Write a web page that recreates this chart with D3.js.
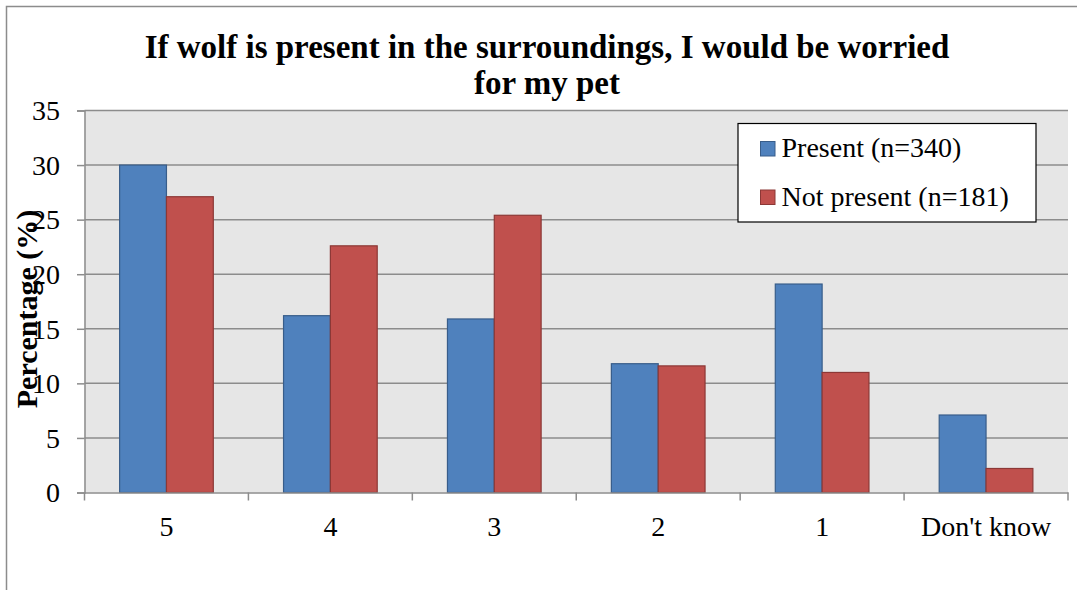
<!DOCTYPE html>
<html>
<head>
<meta charset="utf-8">
<script src="https://cdn.jsdelivr.net/npm/d3@7"></script>
<style>
  html, body { margin: 0; padding: 0; background: #ffffff; }
  svg { display: block; }
  text { font-family: "Liberation Serif", "DejaVu Serif", serif; fill: #000; }
</style>
</head>
<body>
<svg id="chart" width="1077" height="590"></svg>
<script>
const categories = ["5", "4", "3", "2", "1", "Don't know"];
const seriesNames = ["Present (n=340)", "Not present (n=181)"];
const presentValues = [30.0, 16.2, 15.9, 11.8, 19.1, 7.1];
const notPresentValues = [27.1, 22.6, 25.4, 11.6, 11.0, 2.2];
const yTicks = [0, 5, 10, 15, 20, 25, 30, 35];
const titleLines = ["If wolf is present in the surroundings, I would be worried", "for my pet"];
const yAxisTitle = "Percentage (%)";

const fills = ["#4f81bd", "#c0504d"];
const strokes = ["#385d8a", "#8c3836"];
const FONT = "Liberation Serif, DejaVu Serif, serif";

const svg = d3.select("#chart");
const W = 1077, H = 590;
const plot = { left: 84.5, right: 1068, top: 110.5, bottom: 492.5 };

// outer chart frame (cut off at right & bottom)
svg.append("rect")
  .attr("x", 6.5).attr("y", 6.5)
  .attr("width", W + 20).attr("height", H + 20)
  .attr("fill", "#fff").attr("stroke", "#8c8c8c").attr("stroke-width", 1.5);

const x0 = d3.scaleBand().domain(categories).range([plot.left, plot.right]).paddingInner(0).paddingOuter(0);
const x1 = d3.scaleBand().domain(seriesNames).range([0, x0.bandwidth()]).paddingInner(0).paddingOuter(0.75);
const y = d3.scaleLinear().domain([0, 35]).range([plot.bottom, plot.top]);

// plot background
svg.append("rect")
  .attr("x", plot.left).attr("y", plot.top)
  .attr("width", plot.right - plot.left).attr("height", plot.bottom - plot.top)
  .attr("fill", "#e6e6e6");

// gridlines
svg.append("g").selectAll("line").data(yTicks.filter(t => t > 0)).join("line")
  .attr("x1", plot.left).attr("x2", plot.right)
  .attr("y1", d => y(d)).attr("y2", d => y(d))
  .attr("stroke", "#8c8c8c").attr("stroke-width", 1.5);

// bars
const data = categories.map((c, i) => ({ cat: c, vals: [presentValues[i], notPresentValues[i]] }));
const groups = svg.append("g").selectAll("g").data(data).join("g")
  .attr("transform", d => `translate(${x0(d.cat)},0)`);
groups.selectAll("rect").data(d => d.vals.map((v, k) => ({ v, k }))).join("rect")
  .attr("x", d => x1(seriesNames[d.k]))
  .attr("y", d => y(d.v))
  .attr("width", x1.bandwidth())
  .attr("height", d => y(0) - y(d.v))
  .attr("fill", d => fills[d.k])
  .attr("stroke", d => strokes[d.k])
  .attr("stroke-width", 1.2);

// y axis
const yAxis = svg.append("g").attr("transform", `translate(${plot.left},0)`)
  .call(d3.axisLeft(y).tickValues(yTicks).tickSize(7.5).tickPadding(17).tickFormat(d3.format("d")));
yAxis.select(".domain").attr("stroke", "#8c8c8c").attr("stroke-width", 1.5);
yAxis.selectAll(".tick line").attr("stroke", "#8c8c8c").attr("stroke-width", 1.5);
yAxis.selectAll(".tick text").attr("font-size", 28).attr("font-family", FONT).attr("fill", "#000").attr("dy", "0.33em");

// x axis
const xAxis = svg.append("g").attr("transform", `translate(0,${plot.bottom})`)
  .call(d3.axisBottom(x0).tickSize(0).tickPadding(0));
xAxis.select(".domain").attr("stroke", "#8c8c8c").attr("stroke-width", 1.5);
xAxis.selectAll(".tick text").attr("font-size", 28).attr("font-family", FONT).attr("fill", "#000")
  .attr("y", 536 - plot.bottom).attr("dy", 0);
// category boundary tick marks
const boundaries = categories.map(c => x0(c)).concat([plot.right]);
svg.append("g").selectAll("line").data(boundaries).join("line")
  .attr("x1", d => d).attr("x2", d => d)
  .attr("y1", plot.bottom).attr("y2", plot.bottom + 8)
  .attr("stroke", "#8c8c8c").attr("stroke-width", 1.5);

// title
svg.append("g").selectAll("text").data(titleLines).join("text")
  .attr("x", 547).attr("y", (d, i) => 58 + i * 36)
  .attr("text-anchor", "middle")
  .attr("font-size", 33).attr("font-weight", "bold")
  .text(d => d);

// y axis title
svg.append("text")
  .attr("transform", `translate(37,309) rotate(-90)`)
  .attr("text-anchor", "middle")
  .attr("font-size", 30).attr("font-weight", "bold")
  .text(yAxisTitle);

// legend
const lg = svg.append("g").attr("transform", "translate(738,123)");
lg.append("rect").attr("x", 0).attr("y", 0.5).attr("width", 298).attr("height", 98.5)
  .attr("fill", "#fff").attr("stroke", "#000").attr("stroke-width", 1.2);
const items = lg.selectAll("g").data(seriesNames).join("g")
  .attr("transform", (d, i) => `translate(0,${i * 48.5})`);
items.append("rect").attr("x", 22.5).attr("y", 18.5).attr("width", 14.5).attr("height", 14.5)
  .attr("fill", (d, i) => fills[i]).attr("stroke", (d, i) => strokes[i]).attr("stroke-width", 1);
items.append("text").attr("x", 43.5).attr("y", 34).attr("font-size", 28).text(d => d);
</script>
</body>
</html>
